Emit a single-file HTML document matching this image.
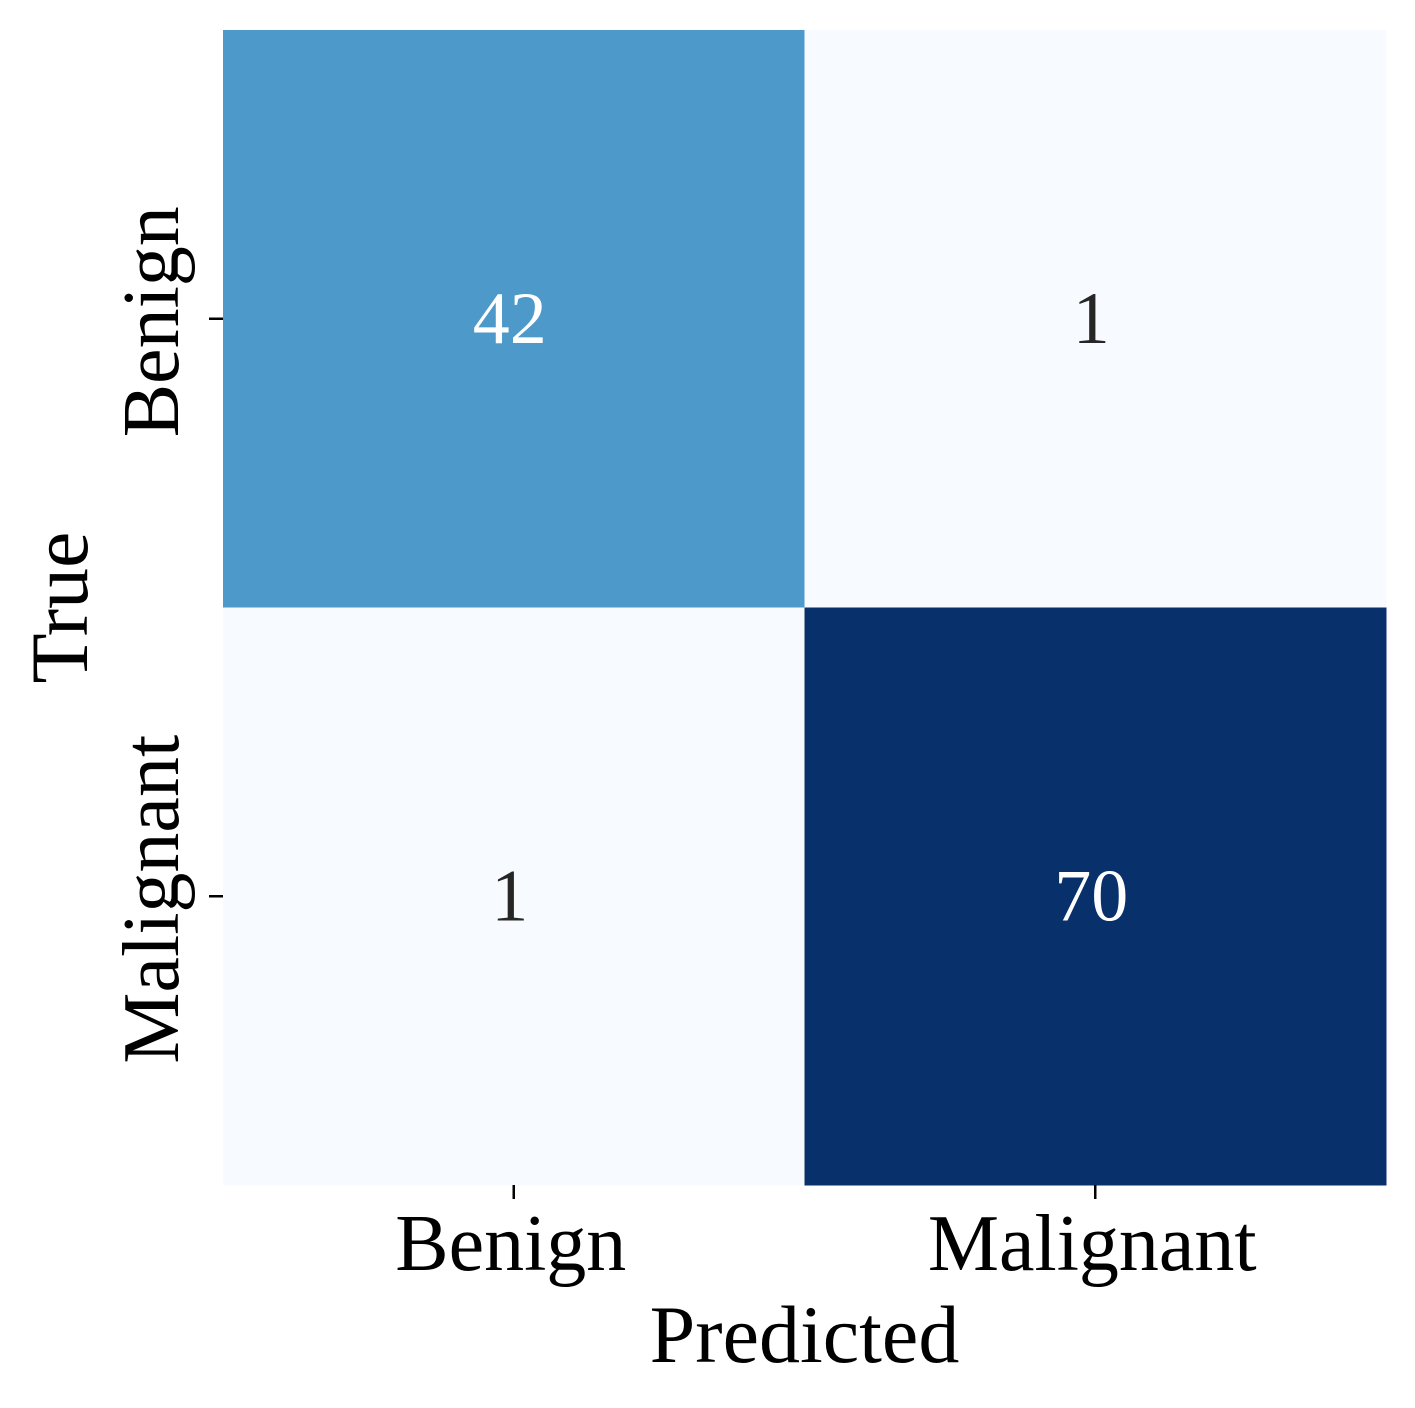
<!DOCTYPE html>
<html><head><meta charset="utf-8"><style>
html,body{margin:0;padding:0;background:#fff;width:1415px;height:1408px;overflow:hidden}
text{font-family:"Liberation Serif",serif}
</style></head><body>
<svg id="chart" width="1415" height="1408" viewBox="0 0 1415 1408" xmlns="http://www.w3.org/2000/svg"></svg>
<script>
const categories = ["Benign", "Malignant"];
const values = [[42, 1], [1, 70]];
const xTitle = "Predicted";
const yTitle = "True";

const NS = "http://www.w3.org/2000/svg";
const svg = document.getElementById('chart');
const L = 223, T = 30, R = 1386, B = 1185;
const n = categories.length;
const cw = (R - L) / n, ch = (B - T) / n;
const xPos = i => L + cw * (i + 0.5);
const yPos = i => T + ch * (i + 0.5);
const flat = values.flat();
const vmin = Math.min(...flat), vmax = Math.max(...flat);
const stops = ["#f7fbff","#deebf7","#c6dbef","#9ecae1","#6baed6","#4292c6","#2171b5","#08519c","#08306b"];
function hex(h){return [1,3,5].map(k=>parseInt(h.substr(k,2),16));}
function color(v){
  const t = (v - vmin) / (vmax - vmin) * (stops.length - 1);
  const i = Math.min(Math.floor(t), stops.length - 2), f = t - i;
  const a = hex(stops[i]), b = hex(stops[i+1]);
  return 'rgb(' + a.map((c,k)=>Math.round(c + (b[k]-c)*f)).join(',') + ')';
}
function mk(tag, attrs){const e=document.createElementNS(NS,tag);for(const k in attrs)e.setAttribute(k,attrs[k]);svg.appendChild(e);return e;}

values.forEach((row, r) => row.forEach((v, c) => {
  const rect = mk('rect', {x: L + c*cw, y: T + r*ch, width: cw + 0.5, height: ch + 0.5, fill: color(v)});
  
  
  const t = (v - vmin) / (vmax - vmin);
  const tx = mk('text', {x: xPos(c) - 4, y: yPos(r) + 24, 'font-size': 74, 'text-anchor': 'middle', fill: t > 0.4 ? '#ffffff' : '#262626'});
  tx.textContent = v;
  
  
}));

categories.forEach((cat, i) => {
  const xt = mk('line', {x1: xPos(i), x2: xPos(i), y1: B, y2: B + 14, stroke: '#000', 'stroke-width': 2.5});
  
  
  const xl = mk('text', {x: xPos(i) - 3, y: 1270, 'font-size': 80, 'text-anchor': 'middle', fill: '#000'});
  xl.textContent = cat;
  
  
  const yt = mk('line', {x1: L - 14, x2: L, y1: yPos(i), y2: yPos(i), stroke: '#000', 'stroke-width': 2.5});
  
  
  const yl = mk('text', {x: 0, y: 0, 'font-size': 80, 'text-anchor': 'middle', fill: '#000', transform: 'translate(178,' + (yPos(i) + 3) + ') rotate(-90)'});
  yl.textContent = cat;
  
  
});

const xtit = mk('text', {x: (L+R)/2, y: 1362, 'font-size': 82, 'text-anchor': 'middle', fill: '#000'});
xtit.textContent = xTitle;


const ytit = mk('text', {x: 0, y: 0, 'font-size': 82, 'text-anchor': 'middle', fill: '#000', transform: 'translate(87,' + (T+B)/2 + ') rotate(-90)'});
ytit.textContent = yTitle;


</script>
</body></html>
